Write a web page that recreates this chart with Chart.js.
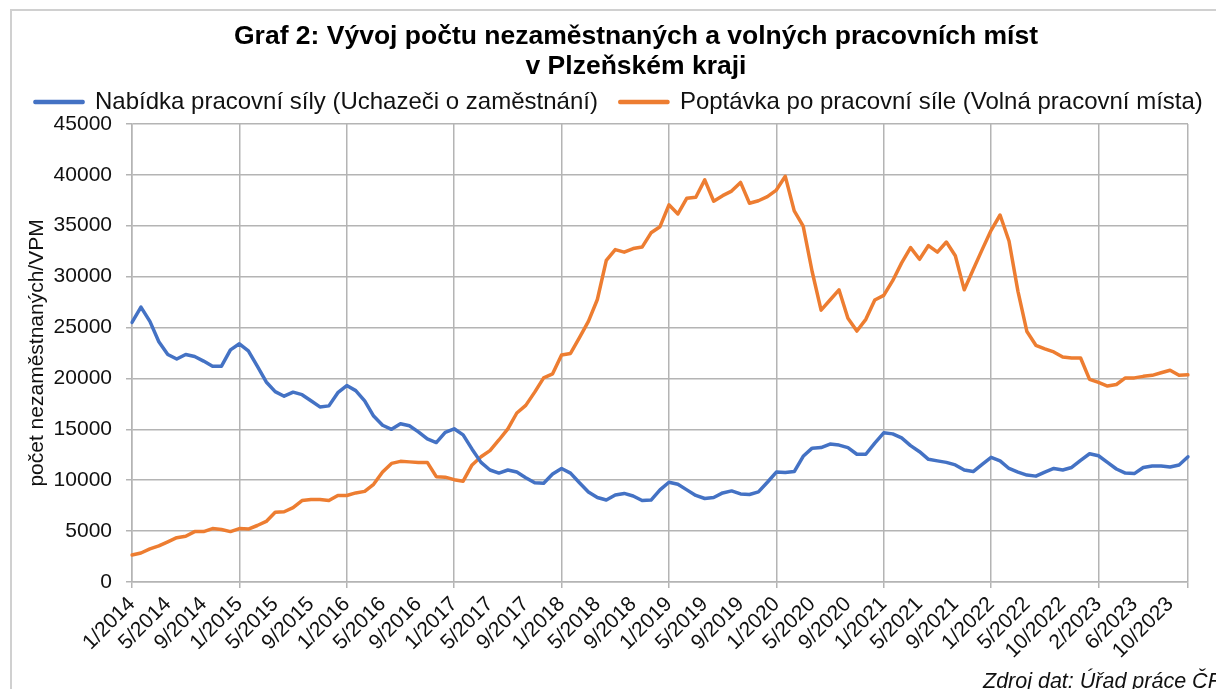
<!DOCTYPE html>
<html lang="cs">
<head>
<meta charset="utf-8">
<title>Graf 2</title>
<script src="https://cdn.jsdelivr.net/npm/chart.js@4.4.1/dist/chart.umd.min.js"></script>
<style>
  html, body { margin: 0; padding: 0; overflow: hidden; background: #fff; }
  #wrap { position: relative; width: 1259px; height: 689px; }
</style>
</head>
<body>
<div id="wrap"><canvas id="canvas"></canvas></div>
<script>
/* data */

const mesice = [
  '1/2014','2/2014','3/2014','4/2014','5/2014','6/2014','7/2014','8/2014','9/2014','10/2014','11/2014','12/2014',
  '1/2015','2/2015','3/2015','4/2015','5/2015','6/2015','7/2015','8/2015','9/2015','10/2015','11/2015','12/2015',
  '1/2016','2/2016','3/2016','4/2016','5/2016','6/2016','7/2016','8/2016','9/2016','10/2016','11/2016','12/2016',
  '1/2017','2/2017','3/2017','4/2017','5/2017','6/2017','7/2017','8/2017','9/2017','10/2017','11/2017','12/2017',
  '1/2018','2/2018','3/2018','4/2018','5/2018','6/2018','7/2018','8/2018','9/2018','10/2018','11/2018','12/2018',
  '1/2019','2/2019','3/2019','4/2019','5/2019','6/2019','7/2019','8/2019','9/2019','10/2019','11/2019','12/2019',
  '1/2020','2/2020','3/2020','4/2020','5/2020','6/2020','7/2020','8/2020','9/2020','10/2020','11/2020','12/2020',
  '1/2021','2/2021','3/2021','4/2021','5/2021','6/2021','7/2021','8/2021','9/2021','10/2021','11/2021','12/2021',
  '1/2022','2/2022','3/2022','4/2022','5/2022','6/2022','7/2022','8/2022','10/2022','11/2022','12/2022',
  '1/2023','2/2023','3/2023','4/2023','5/2023','6/2023','7/2023','8/2023','9/2023','10/2023','11/2023','12/2023'
];

// Nabidka pracovni sily (uchazeci o zamestnani)
const uchazeci = [
  25500, 27000, 25600, 23600, 22350, 21900, 22350, 22150, 21700, 21200, 21200, 22800,
  23400, 22700, 21200, 19650, 18700, 18250, 18650, 18400, 17800, 17200, 17300, 18600,
  19300, 18800, 17800, 16300, 15400, 15000, 15550, 15350, 14750, 14050, 13700, 14700,
  15050, 14450, 13050, 11750, 11000, 10700, 11000, 10800, 10250, 9750, 9700, 10600,
  11150, 10700, 9750, 8850, 8300, 8050, 8550, 8700, 8450, 8000, 8050, 9050,
  9800, 9600, 9050, 8500, 8200, 8300, 8750, 8950, 8650, 8600, 8850, 9800,
  10800, 10750, 10850, 12350, 13150, 13200, 13550, 13450, 13200, 12550, 12550, 13650,
  14650, 14550, 14150, 13400, 12800, 12050, 11900, 11750, 11500, 11000, 10850, 11550,
  12250, 11900, 11150, 10800, 10500, 10400, 10800, 11150, 11000, 11250, 11950,
  12600, 12400, 11750, 11100, 10700, 10650, 11250, 11400, 11400, 11300, 11500, 12300
];

// Poptavka po pracovni sile (volna pracovni mista)
const volnaMista = [
  2650, 2850, 3250, 3550, 3950, 4350, 4500, 4950, 4950, 5250, 5150, 4950,
  5250, 5200, 5550, 5950, 6850, 6900, 7300, 8000, 8100, 8100, 8000, 8500,
  8500, 8750, 8900, 9600, 10800, 11650, 11850, 11800, 11750, 11750, 10350, 10300,
  10050, 9900, 11500, 12300, 12900, 13950, 15050, 16600, 17350, 18650, 20050, 20450,
  22300, 22450, 24000, 25600, 27750, 31600, 32650, 32400, 32750, 32900, 34300, 34900,
  37050, 36150, 37700, 37800, 39500, 37400, 37950, 38400, 39250, 37200, 37450, 37850,
  38500, 39850, 36450, 34950, 30500, 26700, 27700, 28700, 25900, 24650, 25800, 27700,
  28150, 29600, 31350, 32850, 31700, 33050, 32400, 33400, 32050, 28700, 30700, 32650,
  34550, 36050, 33500, 28550, 24600, 23250, 22900, 22600, 22100, 22000, 22000,
  19900, 19600, 19250, 19400, 20050, 20050, 20200, 20300, 20550, 20800, 20300, 20350
];

const hodnotyOsyY = [0, 5000, 10000, 15000, 20000, 25000, 30000, 35000, 40000, 45000];

/* grafika */

const pismo = "'Liberation Sans', Arial, sans-serif";
const sedaMrizka = '#b4b4b4';
const barvaTextu = '#111111';

Chart.defaults.font.family = pismo;
Chart.defaults.color = barvaTextu;

// ramecek okolo grafu a zdroj dat
const ramecek = {
  id: 'ramecek',
  beforeDraw: function(chart) {
    const c = chart.ctx;
    c.save();
    c.fillStyle = '#ffffff';
    c.fillRect(0, 0, chart.width, chart.height);
    c.strokeStyle = '#d0d0d0';
    c.lineWidth = 2;
    c.strokeRect(11, 10, chart.width + 40, chart.height + 40);
    c.restore();
  },
  afterDraw: function(chart) {
    const c = chart.ctx;
    c.save();
    c.fillStyle = barvaTextu;
    c.font = 'italic 21.5px ' + pismo;
    c.textAlign = 'left';
    c.textBaseline = 'alphabetic';
    c.fillText('Zdroj dat: Úřad práce ČR', 983, 688);
    c.restore();
  }
};

const ctx = document.getElementById('canvas');

var chart1 = new Chart(ctx, {
  type: 'line',
  data: {
    labels: mesice,
    datasets: [{
      label: 'Nabídka pracovní síly (Uchazeči o zaměstnání)',
      data: uchazeci,
      borderColor: '#4472C4',
      backgroundColor: '#4472C4',
      borderWidth: 3.5,
      pointRadius: 0,
      tension: 0,
      borderJoinStyle: 'round',
      borderCapStyle: 'round'
    }, {
      label: 'Poptávka po pracovní síle (Volná pracovní místa)',
      data: volnaMista,
      borderColor: '#ED7D31',
      backgroundColor: '#ED7D31',
      borderWidth: 3.5,
      pointRadius: 0,
      tension: 0,
      borderJoinStyle: 'round',
      borderCapStyle: 'round'
    }]
  },
  options: {
    responsive: true,
    maintainAspectRatio: false,
    animation: false,
    layout: { padding: { left: 13, top: 0, right: 0, bottom: 0 } },
    plugins: {
      title: {
        display: true,
        text: ['Graf 2: Vývoj počtu nezaměstnaných a volných pracovních míst', 'v Plzeňském kraji'],
        color: '#000',
        font: { size: 26.5, weight: 'bold', lineHeight: 1.13 },
        padding: { top: 22, bottom: -14 }
      },
      legend: {
        position: 'top',
        align: 'start',
        labels: {
          boxWidth: 48,
          boxHeight: 1,
          padding: 22,
          color: barvaTextu,
          font: { size: 24 }
        }
      },
      tooltip: { enabled: false }
    },
    scales: {
      x: {
        ticks: {
          autoSkip: false,
          maxRotation: 45,
          minRotation: 45,
          padding: 4,
          font: { size: 21 },
          callback: function(value, index) {
            return index % 4 === 0 ? this.getLabelForValue(value) : '';
          }
        },
        grid: {
          color: function(c) {
            return (c.index % 12 === 0 || c.index === mesice.length - 1) ? sedaMrizka : 'rgba(0,0,0,0)';
          },
          lineWidth: 1.5,
          tickLength: 6
        },
        border: { color: sedaMrizka, width: 1.5 },
        afterFit: function(scale) { scale.height = 107; }
      },
      y: {
        min: hodnotyOsyY[0],
        max: hodnotyOsyY[hodnotyOsyY.length - 1],
        ticks: {
          stepSize: hodnotyOsyY[1] - hodnotyOsyY[0],
          padding: 14,
          font: { size: 21 },
          callback: function(value) { return String(value); }
        },
        grid: { color: sedaMrizka, lineWidth: 1.5, tickLength: 6 },
        border: { color: sedaMrizka, width: 1.5 },
        title: {
          display: true,
          text: 'počet nezaměstnaných/VPM',
          color: barvaTextu,
          font: { size: 21 },
          padding: { top: 12, bottom: 0 }
        },
        afterFit: function(scale) { scale.width = 119; }
      },
      y2: {
        type: 'linear',
        position: 'right',
        display: true,
        grid: { display: false },
        ticks: { display: false },
        border: { display: false },
        afterFit: function(scale) { scale.width = 71; }
      }
    }
  },
  plugins: [ramecek]
});
</script>
</body>
</html>
